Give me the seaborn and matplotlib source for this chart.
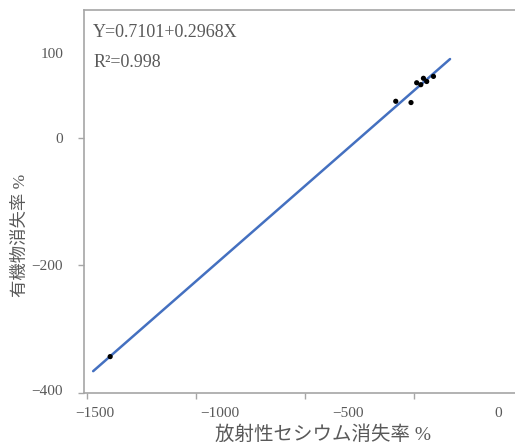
import numpy as np
import pandas as pd
import matplotlib
matplotlib.use("Agg")
import matplotlib.pyplot as plt
import matplotlib.transforms as mtransforms
import seaborn as sns

# 放射性セシウム消失率 (%) and 有機物消失率 (%) per sample
cesium_loss = [-1394, -84, -14, 12, 31, 43, 58, 89]
organic_loss = [-343, 57, 55, 86, 83, 93, 88, 96]

# x span covered by the fitted trend line
fit_x_range = [-1472, 165]

x_ticks = [-1500, -1000, -500, 0]
x_tick_labels = ["\u22121500", "\u22121000", "\u2212500", "0"]
y_ticks = [100, 0, -200, -400]
y_tick_labels = ["100", "0", "\u2212200", "\u2212400"]

equation_text = "Y=0.7101+0.2968X"
r2_text = "R\u00b2=0.998"

x_label = "放射性セシウム消失率 %"
y_label = "有機物消失率 %"

TEXT = "#595959"
AXIS = "#a6a6a6"

sns.set_style("white")
plt.rcParams["font.family"] = ["Liberation Serif", "Noto Sans CJK JP", "DejaVu Sans"]

fig = plt.figure(figsize=(5.15, 4.44), dpi=100)
W, H = 515, 444
ax = fig.add_axes([84 / W, (H - 393) / H, (515 - 84) / W, (393 - 10) / H])

df = pd.DataFrame({"cesium": cesium_loss, "organic": organic_loss})
slope, intercept = np.polyfit(df["cesium"], df["organic"], 1)
fit_x = np.array(fit_x_range, dtype=float)
fit_df = pd.DataFrame({"x": fit_x, "y": intercept + slope * fit_x})

sns.lineplot(data=fit_df, x="x", y="y", color="#4470c0", lw=1.8, ax=ax, zorder=2)
sns.scatterplot(data=df, x="cesium", y="organic", color="black", s=14,
                edgecolor="none", ax=ax, zorder=3)

ax.set_xlim(-1514, 463)
ax.set_ylim(-400, 200)

ax.set_xticks(x_ticks, x_tick_labels)
ax.set_yticks(y_ticks, y_tick_labels)
ax.tick_params(axis="both", direction="out", length=4, width=1, color=AXIS,
               labelcolor=TEXT, labelsize=11, bottom=True, left=True)
ax.tick_params(axis="x", pad=6)
ax.tick_params(axis="y", pad=11)

# label placement along each axis (pixel shifts)
x_label_shift = [(8, 0), (24, 0), (43, 0), (84, 0)]
y_label_shift = [(0, 21), (0, 0), (0, 0), (0, 3)]
for lab, (dx, dy) in zip(ax.get_xticklabels(), x_label_shift):
    lab.set_transform(lab.get_transform() +
                      mtransforms.ScaledTranslation(dx / 100, dy / 100, fig.dpi_scale_trans))
for lab, (dx, dy) in zip(ax.get_yticklabels(), y_label_shift):
    lab.set_transform(lab.get_transform() +
                      mtransforms.ScaledTranslation(dx / 100, dy / 100, fig.dpi_scale_trans))
ax.yaxis.get_major_ticks()[0].tick1line.set_visible(False)

for side in ["left", "bottom", "top"]:
    ax.spines[side].set_color(AXIS)
    ax.spines[side].set_linewidth(1.2)
ax.spines["right"].set_visible(False)

ax.set_xlabel(x_label, fontsize=14, color=TEXT)
ax.xaxis.set_label_coords((323 - 84) / 431, (393 - 425) / 383)
ax.set_ylabel(y_label, fontsize=12.5, color=TEXT)
ax.yaxis.set_label_coords((29 - 84) / 431, (393 - 235) / 383)

ax.text(0.021, 0.94, equation_text, transform=ax.transAxes, fontsize=13,
        color=TEXT, va="center", ha="left")
ax.text(0.021, 0.862, r2_text, transform=ax.transAxes, fontsize=13,
        color=TEXT, va="center", ha="left")

fig.savefig("out.png", dpi=100)
